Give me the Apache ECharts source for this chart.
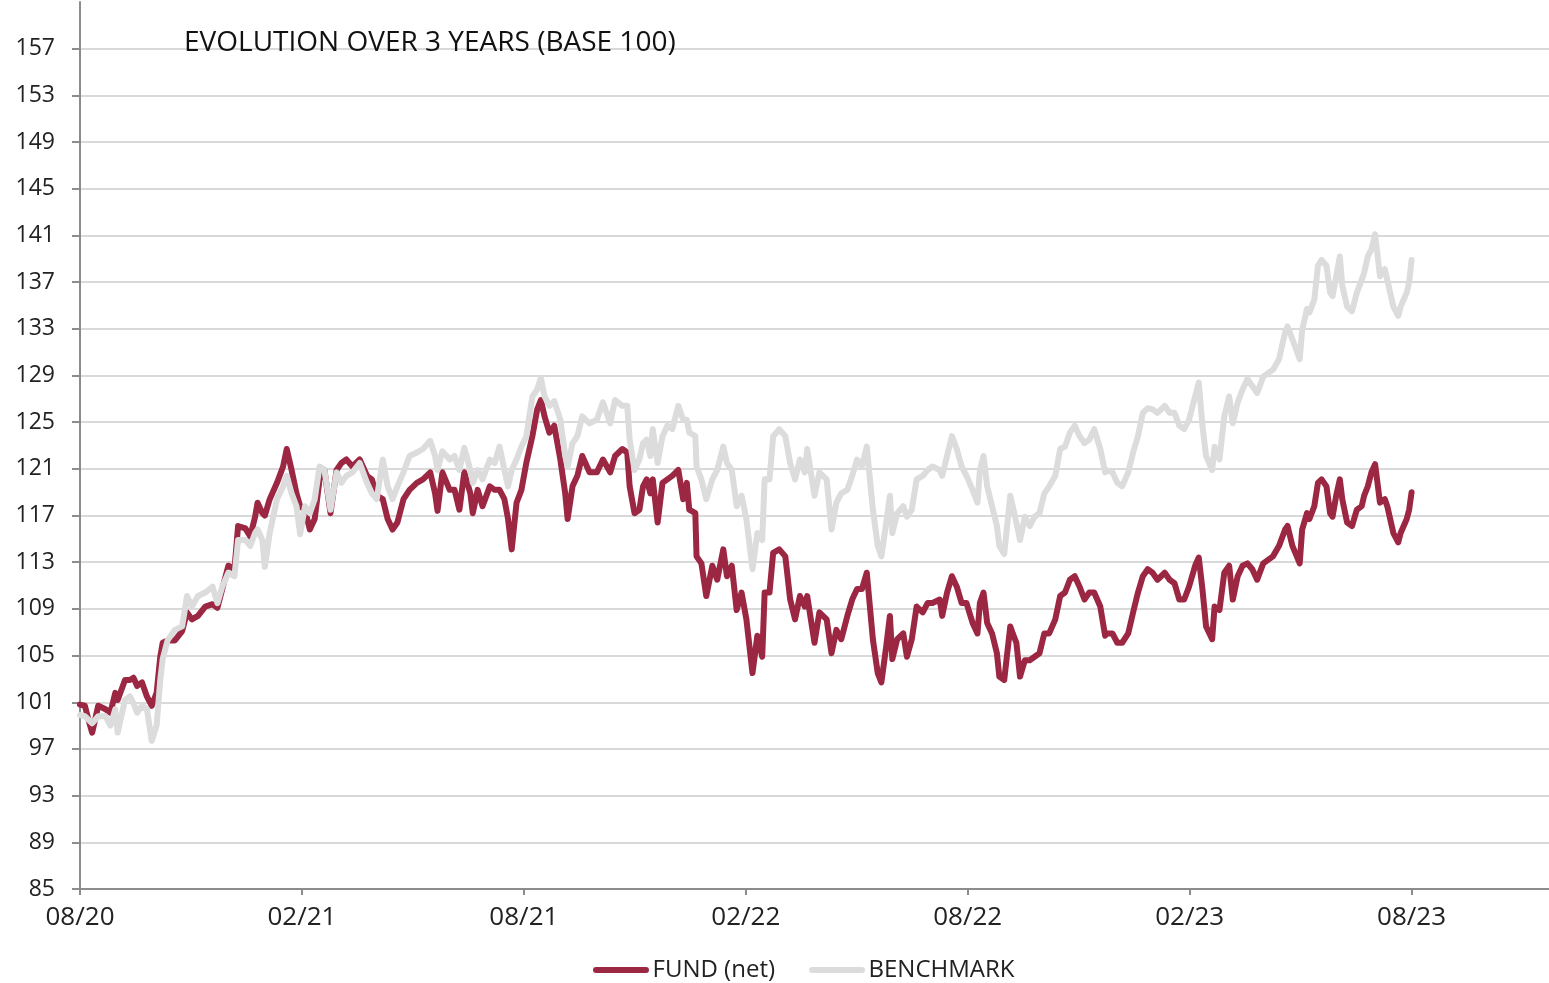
<!DOCTYPE html>
<html>
<head>
<meta charset="utf-8">
<script src="https://cdn.jsdelivr.net/npm/echarts@6/dist/echarts.min.js"></script>
<style>
    html, body { margin: 0; padding: 0; background: #fff; }
    #chart_show { width: 1549px; height: 983px; }
</style>
</head>
<body>
<div id="chart_show"></div>
<script>
// x tick labels, one every 6 months
var tickLabels = ['08/20', '02/21', '08/21', '02/22', '08/22', '02/23', '08/23'];

// days since 08/20
var days = [0, 4, 7, 10, 15, 21, 25, 29, 31, 37, 41, 44, 47, 51, 55, 59, 63, 66, 68, 72, 78, 84, 88, 92, 97, 103, 109, 113, 117, 122, 127, 130, 136, 140, 144, 146,
    150, 152, 156, 162, 167, 170, 174, 178, 181, 185, 189, 193, 197, 201, 206, 211, 215, 219, 224, 230, 236, 240, 244, 249, 253, 257, 261, 266, 271, 277, 282,
    288, 292, 294, 298, 304, 308, 312, 316, 321, 323, 327, 331, 337, 341, 345, 349, 352, 355, 359, 363, 367, 372, 376, 379, 382, 386, 390, 395, 399, 401, 405, 409, 413, 419,
    425, 430, 436, 440, 446, 450, 452, 456, 460, 463, 466, 469, 471, 475, 479, 483, 487, 492, 496, 499, 501, 506, 507, 511, 515, 520, 524, 529, 532, 536, 540, 544, 548, 553, 557, 561,
    563, 567, 570, 575, 580, 584, 588, 592, 596, 598, 604, 608, 614, 618, 622, 626, 631, 635, 639, 643, 647, 652, 656, 659, 663, 666, 668, 672, 677, 680, 684, 688, 693, 697, 701,
    707, 709, 713, 717, 721, 725, 729, 734, 738, 740, 743, 746, 750, 754, 756, 760, 765, 767, 770, 773, 777, 781, 785, 789, 793, 797, 802, 806, 810, 814, 818, 822, 826, 830, 834, 839, 843,
    844, 849, 853, 857, 862, 866, 870, 874, 878, 882, 886, 892, 896, 900, 904, 908, 912, 917, 920, 923, 926, 931, 933, 937, 941, 945, 948, 952, 956, 960, 964, 968, 973, 977, 981,
    986, 991, 993, 997, 1003, 1005, 1009, 1011, 1015, 1018, 1021, 1025, 1028, 1030, 1033, 1036, 1038, 1042, 1046, 1050, 1054, 1056, 1059, 1062, 1065, 1069, 1073, 1075, 1080, 1084, 1086, 1091, 1093, 1095];

var fund = [100.8, 100.7, 99.5, 98.4, 100.7, 100.4, 100.1, 101.8, 101.2, 102.9, 102.9, 103.1, 102.4, 102.7, 101.5, 100.7, 101.8, 104.9, 106.1, 106.3, 106.3, 107.1, 108.7, 108.1, 108.4, 109.2, 109.4, 109.1, 110.7, 112.7, 112.4, 116.1, 115.9, 115.2, 116.9, 118.1,
    117.2, 117.0, 118.4, 119.8, 121.2, 122.7, 120.9, 118.9, 117.8, 117.5, 115.8, 116.7, 120.1, 120.9, 117.2, 120.9, 121.5, 121.8, 121.2, 121.8, 120.4, 120.1, 118.7, 118.4, 116.7, 115.8, 116.4, 118.4, 119.2, 119.8, 120.1,
    120.7, 118.9, 117.4, 120.7, 119.2, 119.2, 117.5, 120.7, 118.9, 117.2, 119.2, 117.8, 119.5, 119.2, 119.2, 118.4, 116.7, 114.1, 118.1, 119.2, 121.5, 123.8, 126.1, 126.9, 125.5, 124.1, 124.7, 121.8, 118.9, 116.7, 119.5, 120.4, 122.1, 120.7,
    120.7, 121.8, 120.7, 122.1, 122.7, 122.4, 119.5, 117.2, 117.5, 119.5, 120.1, 118.9, 120.1, 116.4, 119.8, 120.1, 120.4, 120.9, 118.4, 119.8, 117.5, 117.2, 113.5, 112.9, 110.1, 112.7, 111.5, 114.1, 111.8, 112.7, 108.9, 110.4, 108.1, 103.5, 106.7, 104.9,
    110.4, 110.4, 113.8, 114.1, 113.5, 109.8, 108.1, 110.1, 109.2, 110.1, 106.1, 108.7, 108.1, 105.2, 107.2, 106.4, 108.4, 109.8, 110.7, 110.7, 112.1, 106.4, 103.5, 102.7, 105.8, 108.4, 104.7, 106.4, 106.9, 104.9, 106.4, 109.2, 108.7, 109.5, 109.5,
    109.8, 108.4, 110.4, 111.8, 110.9, 109.5, 109.5, 107.8, 106.9, 109.5, 110.4, 107.8, 106.9, 105.2, 103.2, 102.9, 107.5, 106.9, 106.1, 103.2, 104.6, 104.6, 104.9, 105.2, 106.9, 106.9, 108.1, 110.1, 110.4, 111.5, 111.8, 110.9, 109.8, 110.4, 110.4, 109.2, 106.7,
    106.9, 106.9, 106.1, 106.1, 106.9, 108.7, 110.4, 111.8, 112.4, 112.1, 111.5, 112.1, 111.5, 111.2, 109.8, 109.8, 110.9, 112.7, 113.4, 110.7, 107.5, 106.4, 109.2, 108.9, 112.1, 112.7, 109.8, 111.8, 112.7, 112.9, 112.4, 111.5, 112.9, 113.2, 113.5,
    114.4, 115.8, 116.1, 114.4, 112.9, 115.8, 117.2, 116.7, 117.8, 119.8, 120.1, 119.5, 117.2, 116.9, 118.7, 120.1, 118.4, 116.4, 116.1, 117.5, 117.8, 118.7, 119.5, 120.7, 121.4, 118.1, 118.4, 117.8, 115.5, 114.7, 115.5, 116.7, 117.5, 119.0];

var benchmark = [99.9, 99.8, 99.5, 99.2, 99.8, 99.8, 99.0, 100.4, 98.4, 101.2, 101.5, 100.9, 100.1, 100.7, 100.4, 97.7, 99.0, 102.9, 104.7, 106.3, 107.2, 107.5, 110.1, 109.2, 110.1, 110.4, 110.9, 109.5, 110.9, 112.1, 111.8, 114.9, 114.9, 114.4, 115.5, 115.8,
    114.9, 112.6, 115.5, 118.4, 119.5, 120.4, 118.9, 117.8, 115.4, 117.8, 117.2, 118.4, 121.2, 120.9, 117.5, 120.7, 119.8, 120.4, 120.7, 121.5, 119.8, 118.9, 118.4, 121.8, 119.5, 118.4, 119.5, 120.7, 122.1, 122.4, 122.7,
    123.4, 122.1, 120.9, 122.5, 121.8, 122.1, 120.9, 122.8, 120.9, 119.8, 120.9, 120.1, 121.8, 121.5, 122.9, 120.9, 119.5, 120.9, 121.8, 122.9, 123.8, 127.2, 127.8, 128.8, 127.2, 126.4, 126.8, 125.2, 122.1, 121.2, 123.2, 123.8, 125.5, 124.9,
    125.2, 126.7, 124.9, 126.9, 126.4, 126.4, 123.5, 120.9, 121.8, 123.2, 123.5, 122.1, 124.4, 121.5, 123.8, 124.7, 124.4, 126.4, 125.2, 125.2, 124.1, 123.8, 121.2, 120.1, 118.4, 120.1, 120.9, 122.9, 121.5, 120.9, 117.8, 118.7, 116.7, 112.4, 115.5, 114.9,
    120.1, 120.1, 123.8, 124.4, 123.8, 121.5, 120.1, 121.8, 120.7, 122.7, 118.7, 120.7, 120.1, 115.8, 118.1, 118.9, 119.2, 120.4, 121.8, 121.2, 122.9, 117.5, 114.4, 113.5, 116.4, 118.7, 115.5, 117.2, 117.8, 116.9, 117.5, 120.1, 120.4, 120.9, 121.2,
    120.9, 120.4, 122.1, 123.8, 122.7, 121.2, 120.4, 119.2, 118.1, 120.9, 122.1, 119.5, 117.8, 116.1, 114.4, 113.7, 118.7, 117.8, 116.4, 114.9, 116.9, 116.1, 116.9, 117.2, 118.9, 119.5, 120.4, 122.7, 122.9, 124.1, 124.7, 123.8, 123.2, 123.5, 124.4, 122.7, 120.7,
    120.9, 120.7, 119.8, 119.5, 120.7, 122.4, 123.8, 125.8, 126.2, 126.1, 125.8, 126.4, 125.8, 125.8, 124.7, 124.4, 125.2, 127.2, 128.4, 124.7, 122.1, 120.9, 122.9, 121.8, 125.5, 127.2, 124.9, 126.7, 127.8, 128.7, 128.1, 127.5, 128.9, 129.2, 129.5,
    130.4, 132.7, 133.2, 132.1, 130.4, 132.9, 134.7, 134.4, 135.5, 138.4, 138.9, 138.4, 136.1, 135.8, 137.5, 139.2, 136.7, 134.9, 134.5, 136.1, 137.2, 137.8, 139.2, 139.8, 141.1, 137.5, 138.1, 137.2, 134.9, 134.1, 134.9, 136.1, 137.0, 138.9];

var fundData = [];
var benchData = [];
for (var i = 0; i < days.length; i++) {
    fundData.push([days[i], fund[i]]);
    benchData.push([days[i], benchmark[i]]);
}

var halfYear = 182.5;
var fontName = 'Open Sans';
var capsule = 'path://M3,0 L53,0 A3,3 0 0 1 53,6 L3,6 A3,3 0 0 1 3,0 Z';

var oChart = echarts.init(document.getElementById('chart_show'));
var chartopt = {
    animation: false,
    title: {
        text: 'EVOLUTION OVER 3 YEARS (BASE 100)',
        left: 184,
        top: 29,
        padding: 0,
        textStyle: {
            fontFamily: fontName,
            fontSize: 28,
            fontWeight: 'normal',
            color: '#111'
        }
    },
    legend: {
        data: [
            { name: 'FUND (net)', icon: capsule },
            { name: 'BENCHMARK', icon: capsule }
        ],
        left: 588,
        top: 953,
        itemWidth: 57,
        itemHeight: 6,
        itemGap: 34,
        textStyle: {
            fontFamily: fontName,
            fontSize: 24,
            color: '#222',
            padding: [0, 0, 0, -2]
        }
    },
    grid: {
        left: 80,
        right: 0,
        top: 2,
        bottom: 94
    },
    xAxis: {
        type: 'value',
        min: 0,
        max: 1208,
        interval: halfYear,
        axisLine: { lineStyle: { color: '#8c8c8c', width: 2 } },
        axisTick: { show: true, length: 6, lineStyle: { color: '#8c8c8c', width: 2 } },
        splitLine: { show: false },
        axisLabel: {
            showMaxLabel: false,
            margin: 16,
            fontFamily: fontName,
            fontSize: 26,
            color: '#222',
            formatter: function (v) {
                var k = Math.round(v / halfYear);
                if (Math.abs(v - k * halfYear) > 1 || k >= tickLabels.length) return '';
                return tickLabels[k];
            }
        }
    },
    yAxis: {
        type: 'value',
        min: 85,
        max: 161,
        interval: 4,
        axisLine: { show: true, lineStyle: { color: '#8c8c8c', width: 2 } },
        axisTick: { show: true, length: 8, lineStyle: { color: '#8c8c8c', width: 2 } },
        splitLine: { show: true, showMaxLine: false, lineStyle: { color: '#d9d9d9', width: 2 } },
        axisLabel: {
            showMaxLabel: false,
            margin: 25,
            fontFamily: fontName,
            fontSize: 23,
            color: '#222'
        }
    },
    series: [{
        name: 'FUND (net)',
        type: 'line',
        showSymbol: false,
        symbol: 'none',
        color: '#9b2743',
        lineStyle: { color: '#9b2743', width: 6, cap: 'round', join: 'round' },
        data: fundData
    }, {
        name: 'BENCHMARK',
        type: 'line',
        showSymbol: false,
        symbol: 'none',
        color: '#dcdcdc',
        lineStyle: { color: '#dcdcdc', width: 6, cap: 'round', join: 'round' },
        data: benchData
    }]
};

oChart.setOption(chartopt);
</script>
</body>
</html>
